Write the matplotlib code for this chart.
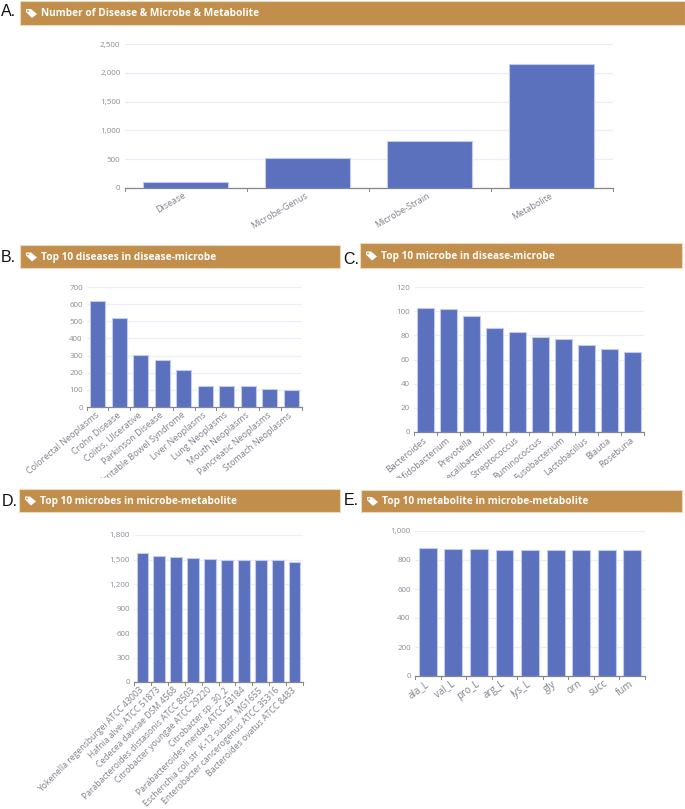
#!/usr/bin/env python
# five bar panels with tan header strips
import matplotlib
matplotlib.use('Agg')
import numpy as np
import matplotlib.pyplot as plt
from matplotlib.patches import Polygon, Circle, Rectangle
from matplotlib.transforms import Bbox

W, H = 685, 809

# panel A
a_title = 'Number of Disease & Microbe & Metabolite'
a_cats = ['Disease', 'Microbe-Genus', 'Microbe-Strain', 'Metabolite']
a_vals = [110, 515, 820, 2145]
a_ticks = [0, 500, 1000, 1500, 2000, 2500]

# panel B
b_title = 'Top 10 diseases in disease-microbe'
b_cats = ['Colorectal Neoplasms', 'Crohn Disease', 'Colitis, Ulcerative', 'Parkinson Disease',
          'Irritable Bowel Syndrome', 'Liver Neoplasms', 'Lung Neoplasms', 'Mouth Neoplasms',
          'Pancreatic Neoplasms', 'Stomach Neoplasms']
b_vals = [620, 517, 305, 273, 215, 125, 125, 120, 105, 100]
b_ticks = [0, 100, 200, 300, 400, 500, 600, 700]

# panel C
c_title = 'Top 10 microbe in disease-microbe'
c_cats = ['Bacteroides', 'Bifidobacterium', 'Prevotella', 'Faecalibacterium', 'Streptococcus',
          'Ruminococcus', 'Fusobacterium', 'Lactobacillus', 'Blautia', 'Roseburia']
c_vals = [103, 102, 96, 86, 83, 79, 77, 72, 69, 66]
c_ticks = [0, 20, 40, 60, 80, 100, 120]

# panel D
d_title = 'Top 10 microbes in microbe-metabolite'
d_cats = ['Yokenella regensburgei ATCC 43003', 'Hafnia alvei ATCC 51873', 'Cedecea davisae DSM 4568',
          'Parabacteroides distasonis ATCC 8503', 'Citrobacter youngae ATCC 29220', 'Citrobacter sp. 30_2',
          'Parabacteroides merdae ATCC 43184', 'Escherichia coli str. K-12 substr. MG1655',
          'Enterobacter cancerogenus ATCC 35316', 'Bacteroides ovatus ATCC 8483']
d_vals = [1585, 1545, 1525, 1515, 1505, 1497, 1495, 1493, 1490, 1470]
d_ticks = [0, 300, 600, 900, 1200, 1500, 1800]

# panel E
e_title = 'Top 10 metabolite in microbe-metabolite'
e_cats = ['ala_L', 'val_L', 'pro_L', 'arg_L', 'lys_L', 'gly', 'orn', 'succ', 'fum']
e_vals = [882, 877, 873, 872, 871, 870, 870, 869, 866]
e_ticks = [0, 200, 400, 600, 800, 1000]

fig = plt.figure(figsize=(W / 100, H / 100), dpi=100)
plt.rcParams['font.family'] = ['Open Sans', 'DejaVu Sans']


def px_axes(x0, y0, x1, y1):
    # pixel box, y counted from the top of the picture
    return fig.add_axes([x0 / W, 1 - y1 / H, (x1 - x0) / W, (y1 - y0) / H])


def header(letter, title, x0, y0, x1, y1, lx, ly):
    ax = fig.add_axes([0, 0, 1, 1], zorder=5)
    ax.set_xlim(0, W)
    ax.set_ylim(H, 0)
    ax.axis('off')
    ax.patch.set_alpha(0)
    ax.add_patch(Rectangle((x0, y0), x1 - x0, y1 - y0, fc='#c28e4c', ec='#ecd9c0', lw=0.8))
    cy = (y0 + y1) / 2
    ix = x0 + 6
    # tag icon
    ax.add_patch(Polygon([(ix, cy - 4), (ix + 5, cy - 4), (ix + 11, cy + 1), (ix + 6, cy + 5), (ix, cy - 1)],
                         fc='white', ec='none'))
    ax.add_patch(Circle((ix + 2, cy - 2), 0.9, fc='#c28e4c', ec='none'))
    ax.text(ix + 15, cy + 0.7, title, color='white', fontsize=7.3, fontweight='bold', va='center', ha='left',
            family=['Open Sans', 'DejaVu Sans'])
    ax.text(lx, ly, letter, color='#111111', fontsize=11.5, va='center', ha='left', family=['Liberation Sans'])


def plot_bars(box, cats, vals, ticks, rot, bar_w, xfont=6.5, clip_y=None):
    ax = px_axes(*box)
    ind = np.arange(len(cats))
    ax.bar(ind, vals, bar_w, color='#5b71bd', edgecolor='#c3cbef', linewidth=0.8, zorder=3)
    ax.set_xlim(-0.5, len(cats) - 0.5)
    ax.set_ylim(0, ticks[-1])
    ax.set_yticks(ticks)
    ax.set_yticklabels(['{:,}'.format(t) for t in ticks])
    ax.set_xticks(ind)
    ax.set_xticklabels(cats, rotation=rot, ha='right', va='center', rotation_mode='anchor')
    ax.tick_params(axis='x', length=0, pad=5, labelsize=xfont, labelcolor='#7f818c')
    ax.tick_params(axis='y', length=0, pad=3, labelsize=5.8, labelcolor='#8a8c96')
    ax.grid(axis='y', color='#eceefa', linewidth=0.9, zorder=0)
    ax.set_axisbelow(True)
    for side in ['top', 'right', 'left']:
        ax.spines[side].set_visible(False)
    ax.spines['bottom'].set_color('#85878f')
    ax.spines['bottom'].set_linewidth(0.9)
    # band edge ticks below the axis line
    for e in np.arange(len(cats) + 1) - 0.5:
        ax.plot([e, e], [0, -2.5 / (box[3] - box[1]) * ticks[-1]], color='#85878f', lw=0.7, clip_on=False, zorder=4)
    if clip_y is not None:
        clip = Bbox([[0, H - clip_y], [W, H]])
        for lab in ax.get_xticklabels():
            lab.set_clip_box(clip)
            lab.set_clip_on(True)
    return ax


header('A.', a_title, 20, 1, 685, 25, 1, 11)
plot_bars((124.5, 44, 612.5, 188), a_cats, a_vals, a_ticks, 30, 0.70)

header('B.', b_title, 20, 245, 340, 268, 1, 258)
plot_bars((87, 287, 302, 407), b_cats, b_vals, b_ticks, 40, 0.70, clip_y=478)

header('C.', c_title, 360, 243, 682, 268, 343, 259)
plot_bars((414, 287, 644, 432), c_cats, c_vals, c_ticks, 40, 0.70, clip_y=478)

header('D.', d_title, 19, 489, 340, 512, 2, 501)
plot_bars((134, 535, 303, 682), d_cats, d_vals, d_ticks, 45, 0.70, xfont=6.2)

header('E.', e_title, 361, 490, 682, 512, 344, 500)
plot_bars((415, 531, 645, 676), e_cats, e_vals, e_ticks, 35, 0.70, xfont=7.0)

fig.savefig('out.png', dpi=100)
